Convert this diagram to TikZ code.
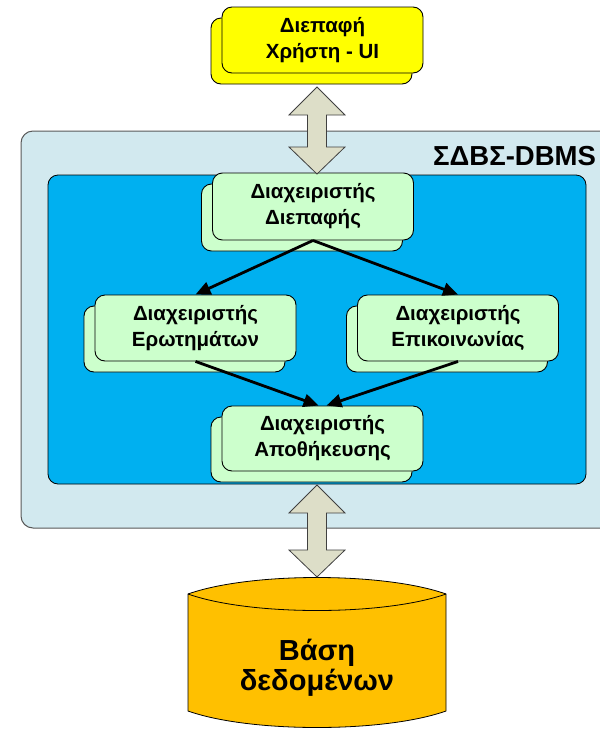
\documentclass[tikz,border=0pt]{standalone}
\usepackage{fontspec}
\setmainfont{Liberation Sans}
\usetikzlibrary{arrows.meta,shadows}
\definecolor{uiyellow}{RGB}{255,255,0}
\definecolor{mgrgreen}{RGB}{204,255,204}
\definecolor{dbmsback}{RGB}{210,233,239}
\definecolor{dbmsblue}{RGB}{0,176,240}
\definecolor{dbgold}{RGB}{255,192,0}
\definecolor{arrowgray}{RGB}{221,222,200}
\tikzset{
  mgr/.style={draw=black, fill=mgrgreen, line width=0.9pt, rounded corners=10pt, minimum width=201pt,
    minimum height=66pt, align=center, inner sep=0pt,
    font=\bfseries\fontsize{20.5}{26}\selectfont,
    copy shadow={shadow xshift=-11pt, shadow yshift=-11pt}},
  flow/.style={line width=2.8pt, -{Triangle[length=15pt,width=13pt]}},
  blockarr/.style={draw=black!75, fill=arrowgray, line width=0.8pt},
}
\newcommand{\dbarrow}[2]{%
  \draw[blockarr] (#1) -- ([xshift=28pt,yshift=-28pt]#1) -- ([xshift=9.5pt,yshift=-28pt]#1)
    -- ([xshift=9.5pt,yshift=27pt]#2) -- ([xshift=28pt,yshift=27pt]#2) -- (#2)
    -- ([xshift=-28pt,yshift=27pt]#2) -- ([xshift=-9.5pt,yshift=27pt]#2)
    -- ([xshift=-9.5pt,yshift=-28pt]#1) -- ([xshift=-28pt,yshift=-28pt]#1) -- cycle;}
\begin{document}
\begin{tikzpicture}[x=1pt,y=-1pt]
	\useasboundingbox[fill=white] (0,0) rectangle (600,734);
	% DBMS frame
	\draw[fill=dbmsback, draw=black!65, line width=1pt, rounded corners=12pt] (21,131) rectangle (640,528);
	\draw[fill=dbmsblue, draw=black, line width=0.8pt, rounded corners=10pt] (48,175) rectangle (586,484);
	\node[anchor=base west, inner sep=0pt, font=\bfseries\fontsize{27.5}{30}\selectfont] (dbms) at (433,165) {ΣΔΒΣ-DBMS};
	
	\node[mgr, fill=uiyellow] (ui) at (322.5,40) {Διεπαφή\\Χρήστη - UI};
	\node[mgr, minimum height=67pt] (intf) at (313,206.5) {Διαχειριστής\\Διεπαφής};
	\node[mgr] (query) at (195.5,328) {Διαχειριστής\\Ερωτημάτων};
	\node[mgr] (comm) at (458,328) {Διαχειριστής\\Επικοινωνίας};
	\node[mgr, minimum height=65pt] (store) at (322.5,438.5) {Διαχειριστής\\Αποθήκευσης};
	
	\draw[flow] (intf.south) -- (query.north);
	\draw[flow] (intf.south) -- (comm.north);
	\draw[flow] (query.south) -- ([xshift=-4pt]store.north);
	\draw[flow] (comm.south) -- ([xshift=4pt]store.north);
	
	% database
	\draw[fill=dbgold, draw=black, line width=0.8pt] (188,594) .. controls (250,572) and (384,572) .. (446,594)
		-- (446,711) .. controls (384,733) and (250,733) .. (188,711) -- cycle;
	\draw[line width=0.8pt] (188,594) .. controls (250,616) and (384,616) .. (446,594);
	\node[align=center, font=\bfseries\fontsize{29}{30}\selectfont] (db) at (317,668) {Βάση\\δεδομένων};
	
	\coordinate (uiTip) at (317,87);
	\coordinate (dbmsTop) at (317,174);
	\coordinate (dbmsBot) at (317,485);
	\coordinate (dbTop) at (317,577);
	\dbarrow{uiTip}{dbmsTop}
	\dbarrow{dbmsBot}{dbTop}
\end{tikzpicture}
\end{document}
